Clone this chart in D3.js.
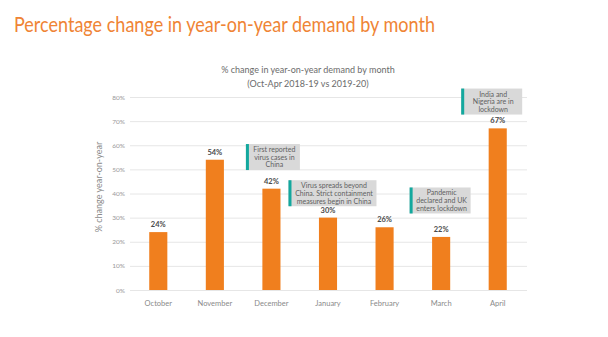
<!DOCTYPE html>
<html>
<head>
<meta charset="utf-8">
<script src="https://cdn.jsdelivr.net/npm/d3@7"></script>
<style>
  body { margin: 0; background: #fff; }
  svg text { font-family: Lato, "Open Sans", sans-serif; }
</style>
</head>
<body>
<svg id="chart" width="608" height="337"></svg>
<script>
var months = ['October', 'November', 'December', 'January', 'February', 'March', 'April']
var change = [24, 54, 42, 30, 26, 22, 67]
var yTicks = [0, 10, 20, 30, 40, 50, 60, 70, 80]

// event notes: bar each note follows, gap after that bar, level of its top edge, text lines
var noteMonth = ['November', 'December', 'February', 'March']
var noteGap = [22, 8, 16, 11]
var noteTop = [60.5, 45.5, 42.5, 83.5]
var noteLines = [
  ['First reported', 'virus cases in', 'China'],
  ['Virus spreads beyond', 'China. Strict containment', 'measures begin in China'],
  ['Pandemic', 'declared and UK', 'enters lockdown'],
  ['India and', 'Nigeria are in', 'lockdown']
]
var noteWidth = [54, 88, 61, 61]

var svg = d3.select('#chart')

svg.append('text')
   .attr('x', 14)
   .attr('y', 32)
   .attr('fill', '#EF8435')
   .attr('font-size', 22)
   .attr('textLength', 421)
   .attr('lengthAdjust', 'spacingAndGlyphs')
   .text('Percentage change in year-on-year demand by month')

var x = d3.scaleBand().domain(months).range([130, 526]).paddingInner(0.68).paddingOuter(0.34)
var y = d3.scaleLinear().domain([0, 80]).range([290, 97])

svg.append('text')
   .attr('x', 308).attr('y', 73)
   .attr('text-anchor', 'middle')
   .attr('fill', '#6b6b6b')
   .attr('font-size', 9)
   .text('% change in year-on-year demand by month')
svg.append('text')
   .attr('x', 308).attr('y', 87)
   .attr('text-anchor', 'middle')
   .attr('fill', '#6b6b6b')
   .attr('font-size', 9)
   .text('(Oct-Apr 2018-19 vs 2019-20)')

// grid + y labels
var yAxis = svg.append('g')
   .attr('transform', 'translate(130,0)')
   .call(d3.axisLeft(y).tickValues(yTicks).tickSize(-397).tickFormat(d => d + '%'))
yAxis.select('.domain').remove()
yAxis.selectAll('line').attr('stroke', '#e6e6e6').attr('stroke-width', 1)
yAxis.selectAll('text')
     .attr('x', -5)
     .attr('fill', '#999')
     .attr('font-size', 6.5)

svg.append('text')
   .attr('transform', 'translate(102,187) rotate(-90)')
   .attr('text-anchor', 'middle')
   .attr('fill', '#8a8a8a')
   .attr('font-size', 9)
   .text('% change year-on-year')

var xAxis = svg.append('g')
   .attr('transform', 'translate(0,290)')
   .call(d3.axisBottom(x).tickSize(0))
xAxis.select('.domain').remove()
xAxis.selectAll('text')
     .attr('dy', 13)
     .attr('fill', '#8a8a8a')
     .attr('font-size', 7.5)

svg.selectAll('rect.bar')
   .data(change)
   .enter()
   .append('rect')
   .attr('class', 'bar')
   .attr('x', (d, i) => x(months[i]))
   .attr('y', d => y(d))
   .attr('width', x.bandwidth())
   .attr('height', d => y(0) - y(d))
   .attr('fill', '#F07F1E')

svg.selectAll('text.val')
   .data(change)
   .enter()
   .append('text')
   .attr('class', 'val')
   .attr('x', (d, i) => x(months[i]) + x.bandwidth() / 2)
   .attr('y', d => y(d) - 5)
   .attr('text-anchor', 'middle')
   .attr('font-size', 7.5)
   .attr('font-weight', 'bold')
   .attr('fill', '#4a4a4a')
   .text(d => d + '%')

var notes = svg.selectAll('g.note')
   .data(noteLines)
   .enter()
   .append('g')
   .attr('class', 'note')
   .attr('transform', (d, i) => 'translate(' + (x(noteMonth[i]) + x.bandwidth() + noteGap[i]) + ',' + y(noteTop[i]) + ')')

notes.append('rect')
     .attr('width', (d, i) => noteWidth[i])
     .attr('height', 26)
     .attr('fill', '#d9d9d9')
notes.append('rect')
     .attr('width', 3)
     .attr('height', 26)
     .attr('fill', '#13A89E')
notes.each(function (lines, i) {
  var g = d3.select(this)
  lines.forEach(function (t, j) {
    g.append('text')
     .attr('x', 3 + (noteWidth[i] - 3) / 2)
     .attr('y', 8 + j * 7.7)
     .attr('text-anchor', 'middle')
     .attr('font-size', 7)
     .attr('fill', '#5f5f5f')
     .text(t)
  })
})
</script>
</body>
</html>
